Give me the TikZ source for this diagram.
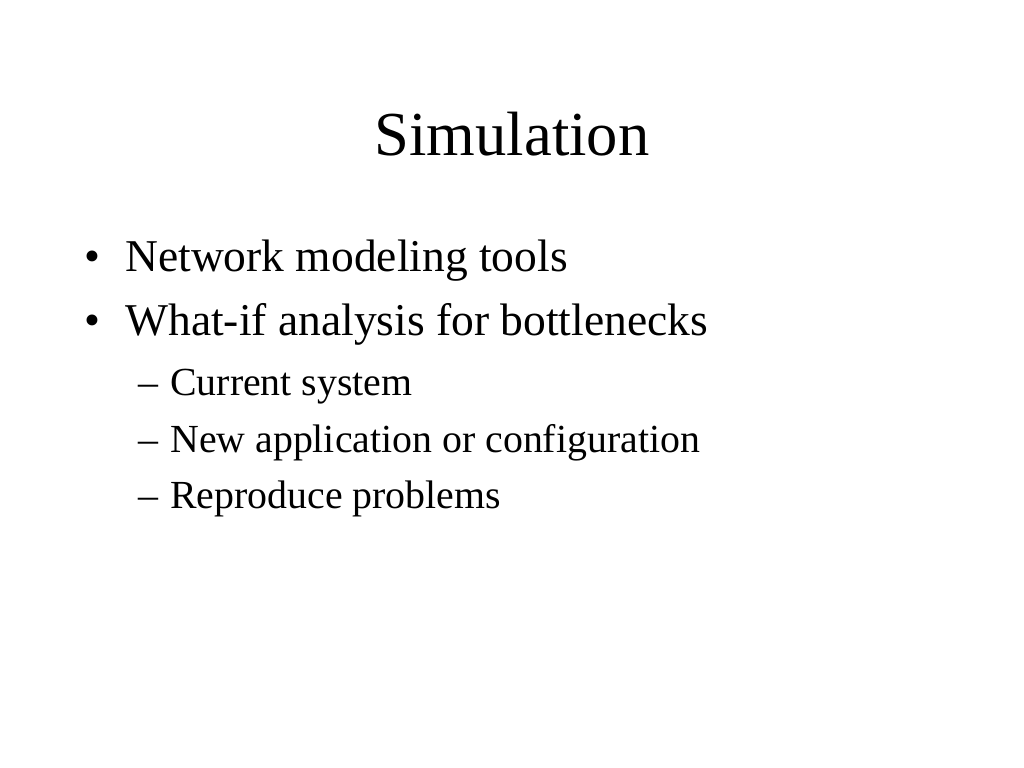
\documentclass[tikz,border=0pt]{standalone}
\usepackage{fontspec}
\setmainfont{Liberation Serif}
\usepackage{tikz}

\begin{document}
\begin{tikzpicture}[x=0.703125pt,y=-0.703125pt,
        every node/.style={inner sep=0pt,anchor=base west},
        titletext/.style={font=\fontsize{44}{52}\selectfont,anchor=base},
        toptext/.style={font=\fontsize{32}{38}\selectfont},
        subtext/.style={font=\fontsize{28}{34}\selectfont}]
        \useasboundingbox (0,0) rectangle (1024,768);
        \node [titletext] (title) at(512,156) {Simulation};
        % first level
        \node [toptext] (dotA) at(84,272) {\textbullet};
        \node [toptext] (tools) at(125,272) {Network modeling tools};
        \node [toptext] (dotB) at(84,336) {\textbullet};
        \node [toptext] (whatif) at(125,336) {What-if analysis for bottlenecks};
        % second level
        \node [subtext] (dashA) at(138,395) {--};
        \node [subtext] (current) at(170,395) {Current system};
        \node [subtext] (dashB) at(138,452) {--};
        \node [subtext] (newapp) at(170,452) {New application or configuration};
        \node [subtext] (dashC) at(138,508) {--};
        \node [subtext] (repro) at(170,508) {Reproduce problems};
    \end{tikzpicture}
\end{document}
